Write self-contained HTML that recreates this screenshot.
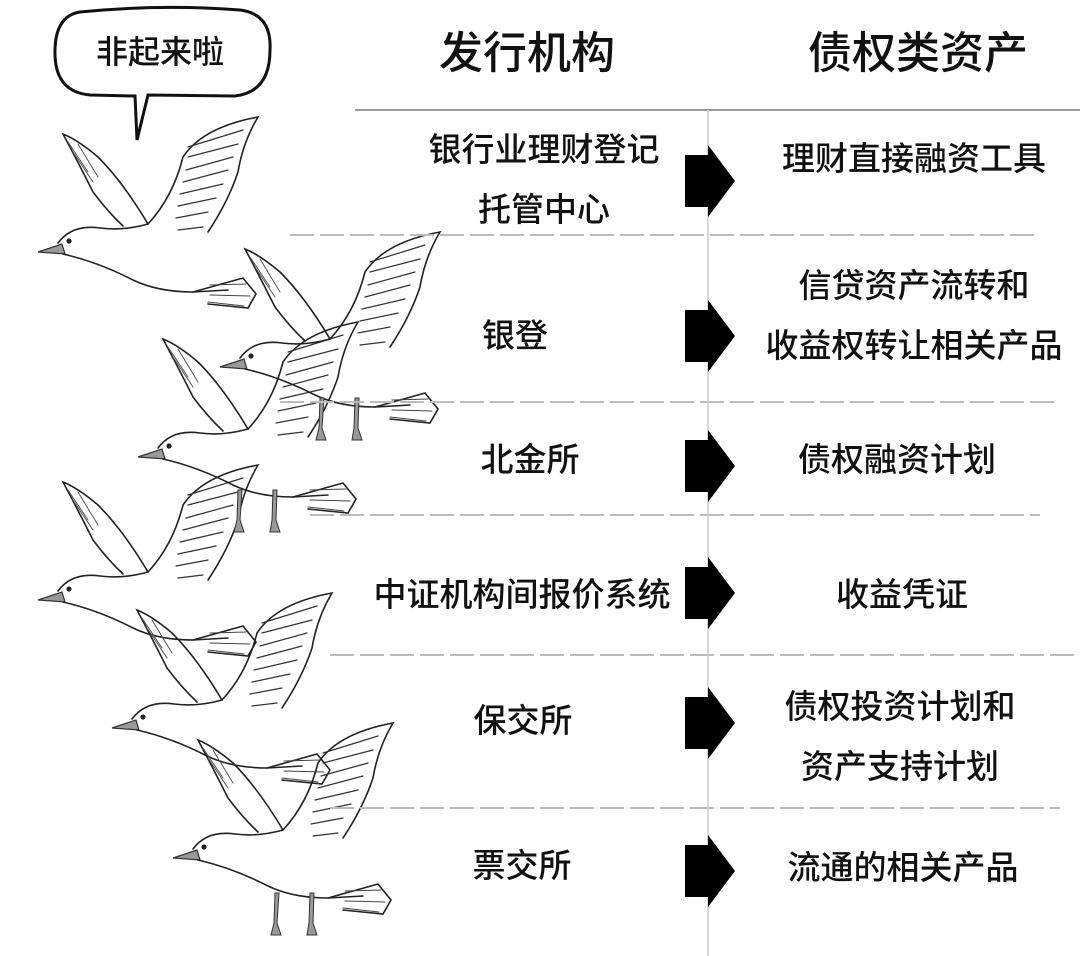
<!DOCTYPE html>
<html><head><meta charset="utf-8">
<style>
html,body{margin:0;padding:0;background:#fff;}
svg{display:block;}
text{font-family:"Liberation Sans","Noto Sans CJK SC",sans-serif;fill:#111;font-weight:500;}
</style></head>
<body>
<svg width="1080" height="956" viewBox="0 0 1080 956" xmlns="http://www.w3.org/2000/svg">
<defs>
<g id="bird" fill="none" stroke="#222" stroke-width="1.6" stroke-linecap="round">
  <path d="M0,0 L24,-8 L27,2 Z" fill="#999" stroke="#333" stroke-width="1.2"/>
  <circle cx="31" cy="-11" r="2.6" fill="#222" stroke="none"/>
  <path d="M20,-9 Q34,-28 62,-24 Q85,-21 110,-28"/>
  <path d="M25,2 Q60,10 95,28 Q120,40 155,40 L190,38"/>
  <path d="M110,-28 Q85,-70 60,-95 Q40,-112 25,-118 Q40,-90 55,-60 Q70,-40 85,-26"/>
  <path d="M30,-110 L50,-80 M40,-108 L60,-75 M35,-100 L55,-70" stroke="#555" stroke-width="1"/>
  <path d="M110,-28 Q135,-55 145,-95 Q165,-125 220,-135 Q205,-110 200,-80 Q190,-50 170,-20"/>
  <path d="M150,-105 L205,-122 M150,-95 L200,-108 M148,-82 L195,-95 M145,-70 L190,-82 M142,-58 L185,-68 M140,-46 L178,-54 M138,-34 L170,-40 M140,-22 L165,-25" stroke="#333" stroke-width="1.2"/>
  <path d="M155,40 L205,26 L218,42 L210,56 L170,52" />
  <path d="M172,33 L208,32 M172,43 L212,44 M170,50 L206,54" stroke="#444" stroke-width="1"/>
</g>
<g id="feet" fill="#999" stroke="#333" stroke-width="1">
  <path d="M0,0 L4,0 L2,30 L6,42 L-4,42 L-1,30 Z"/>
  <path d="M35,0 L39,0 L38,30 L42,42 L32,42 L34,30 Z"/>
</g>
</defs>

<!-- bubble -->
<path d="M80,12 Q160,4 240,10 Q272,14 270,50 Q270,92 235,96 L148,95 L137,140 L135,96 L90,95 Q56,92 55,55 Q54,16 80,12 Z" fill="#fff" stroke="#111" stroke-width="3"/>
<text x="160" y="63" font-size="32" text-anchor="middle">非起来啦</text>

<!-- birds -->
<use href="#bird" x="38" y="252"/>
<use href="#bird" x="38" y="600"/>
<use href="#bird" x="112" y="728"/>
<use href="#bird" x="138" y="457"/>
<use href="#feet" x="238" y="490"/>
<use href="#bird" x="220" y="367"/>
<use href="#feet" x="320" y="398"/>
<use href="#bird" x="173" y="858"/>
<use href="#feet" x="275" y="893"/>

<!-- headers -->
<text x="527" y="68" font-size="44" text-anchor="middle">发行机构</text>
<text x="918" y="68" font-size="44" text-anchor="middle">债权类资产</text>

<!-- lines -->
<line x1="355" y1="110" x2="1080" y2="110" stroke="#999" stroke-width="2"/>
<g stroke="#bbb" stroke-width="2" stroke-dasharray="24,6">
<line x1="290" y1="235" x2="1040" y2="235"/>
<line x1="280" y1="402" x2="1060" y2="402"/>
<line x1="310" y1="515" x2="1040" y2="515"/>
<line x1="330" y1="655" x2="1080" y2="655"/>
<line x1="330" y1="808" x2="1060" y2="808"/>
</g>
<line x1="708" y1="110" x2="708" y2="956" stroke="#ccc" stroke-width="1.5"/>

<!-- arrows -->
<g fill="#000">
<path d="M685,155 L708,155 L708,145 L735,181 L708,217 L708,207 L685,207 Z"/>
<path d="M685,310 L708,310 L708,300 L735,336 L708,372 L708,362 L685,362 Z"/>
<path d="M685,440 L708,440 L708,430 L735,466 L708,502 L708,492 L685,492 Z"/>
<path d="M685,567 L708,567 L708,557 L735,593 L708,629 L708,619 L685,619 Z"/>
<path d="M685,697 L708,697 L708,687 L735,723 L708,759 L708,749 L685,749 Z"/>
<path d="M685,845 L708,845 L708,835 L735,871 L708,907 L708,897 L685,897 Z"/>
</g>

<g font-size="33" text-anchor="middle">
<text x="544" y="161">银行业理财登记</text>
<text x="544" y="221">托管中心</text>
<text x="515" y="347">银登</text>
<text x="530" y="471">北金所</text>
<text x="522" y="606">中证机构间报价系统</text>
<text x="523" y="732">保交所</text>
<text x="522" y="877">票交所</text>
<text x="914" y="170">理财直接融资工具</text>
<text x="914" y="297">信贷资产流转和</text>
<text x="914" y="357">收益权转让相关产品</text>
<text x="897" y="471">债权融资计划</text>
<text x="902" y="606">收益凭证</text>
<text x="900" y="718">债权投资计划和</text>
<text x="900" y="778">资产支持计划</text>
<text x="903" y="879">流通的相关产品</text>
</g>
</svg>
</body></html>
